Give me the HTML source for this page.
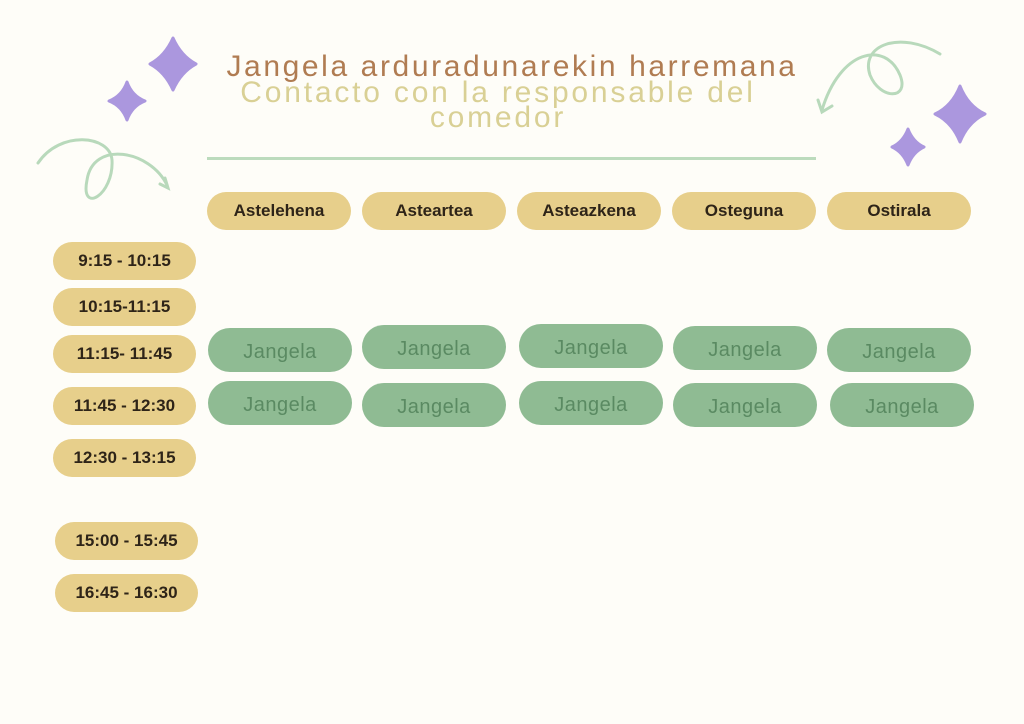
<!DOCTYPE html>
<html><head><meta charset="utf-8"><style>
body{margin:0;width:1024px;height:724px;background:#fefdf8;position:relative;overflow:hidden;font-family:"Liberation Sans",sans-serif}
.p{position:absolute;border-radius:22px;display:flex;align-items:center;justify-content:center;box-sizing:border-box}
.d{background:#e7cf8b;color:#2e2418;font-weight:bold;font-size:17px;height:38px;width:144px;border-radius:19px}
.t{background:#e7cf8b;color:#2e2418;font-weight:bold;font-size:17px;height:38px;width:143px;border-radius:19px}
.g{background:#8fbb93;color:#5a8a62;font-size:20px;width:144px;height:44px;letter-spacing:0.5px;padding-top:4px}
.tt{position:absolute;left:0;width:1024px;text-align:center}
</style></head><body>
<div class="tt" style="top:50px;font-size:30px;color:#b07c52;letter-spacing:2.6px">Jangela arduradunarekin harremana</div>
<div class="tt" style="top:80px;font-size:30px;color:#d9d095;line-height:25px;left:-14px;letter-spacing:2.8px">Contacto con la responsable del<br>comedor</div>
<div style="position:absolute;left:207px;top:157px;width:609px;height:3px;background:#bcdbbd"></div>
<svg style="position:absolute;left:0;top:0" width="1024" height="724">
<g fill="#ab97de" stroke="#ab97de" stroke-width="3" stroke-linejoin="round">
<path d="M173 38 Q181 56 196 64 Q181 72 173 90 Q165 72 150 64 Q165 56 173 38Z"/>
<path d="M127 82 Q132 96 145 101 Q132 106 127 120 Q122 106 109 101 Q122 96 127 82Z"/>
<path d="M960 86 Q968 106 985 114 Q968 122 960 142 Q952 122 935 114 Q952 106 960 86Z"/>
<path d="M908 129 Q913 142 924 147 Q913 152 908 165 Q903 152 892 147 Q903 142 908 129Z"/>
</g>
<g fill="none" stroke="#b8d9bb" stroke-width="3" stroke-linecap="round">
<path d="M38 163 C60 130 110 135 112 160 C114 195 80 215 87 180 C93 140 150 150 167 185"/>
<path d="M160 184 L168 188 L165 178"/>
<path d="M940 54 C900 30 860 45 870 75 C880 100 910 100 900 75 C885 40 840 50 822 110"/>
<path d="M818 100 L822 112 L832 106"/>
</g>
</svg>
<div class="p d" style="left:207px;top:192px">Astelehena</div>
<div class="p d" style="left:362px;top:192px">Asteartea</div>
<div class="p d" style="left:517px;top:192px">Asteazkena</div>
<div class="p d" style="left:672px;top:192px">Osteguna</div>
<div class="p d" style="left:827px;top:192px">Ostirala</div>
<div class="p t" style="left:53px;top:242px">9:15 - 10:15</div>
<div class="p t" style="left:53px;top:288px">10:15-11:15</div>
<div class="p t" style="left:53px;top:335px">11:15- 11:45</div>
<div class="p t" style="left:53px;top:387px">11:45 - 12:30</div>
<div class="p t" style="left:53px;top:439px">12:30 - 13:15</div>
<div class="p t" style="left:55px;top:522px">15:00 - 15:45</div>
<div class="p t" style="left:55px;top:574px">16:45 - 16:30</div>
<div class="p g" style="left:208px;top:328px">Jangela</div>
<div class="p g" style="left:362px;top:325px">Jangela</div>
<div class="p g" style="left:519px;top:324px">Jangela</div>
<div class="p g" style="left:673px;top:326px">Jangela</div>
<div class="p g" style="left:827px;top:328px">Jangela</div>
<div class="p g" style="left:208px;top:381px">Jangela</div>
<div class="p g" style="left:362px;top:383px">Jangela</div>
<div class="p g" style="left:519px;top:381px">Jangela</div>
<div class="p g" style="left:673px;top:383px">Jangela</div>
<div class="p g" style="left:830px;top:383px">Jangela</div>
</body></html>
